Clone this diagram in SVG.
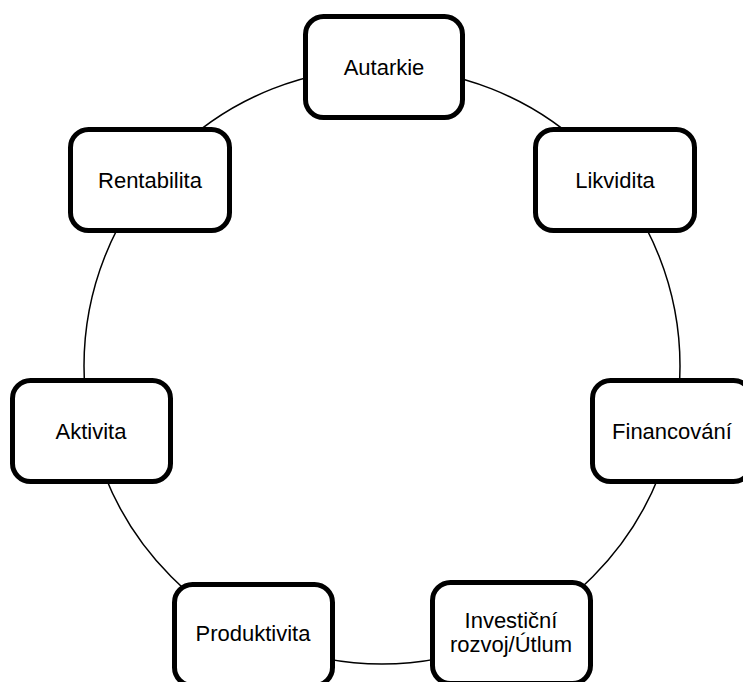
<svg xmlns="http://www.w3.org/2000/svg" width="743" height="682" viewBox="0 0 743 682">
<style>
.box{fill:#fff;stroke:#000;stroke-width:5}
.lbl{font-family:"Liberation Sans",Arial,sans-serif;font-size:22px;fill:#000;text-anchor:middle}
.conn{fill:none;stroke:#000;stroke-width:1.5}
</style>
<rect width="743" height="682" fill="#fff"/>
<g id="connectors">
<circle class="conn" cx="382" cy="366" r="298"/>
</g>
<g id="autarkie">
<rect class="box" x="305.5" y="16.5" width="157" height="101" rx="18"/>
<text class="lbl" x="384" y="75">Autarkie</text>
</g>
<g id="likvidita">
<rect class="box" x="535.5" y="129.5" width="159" height="101" rx="18"/>
<text class="lbl" x="615" y="188">Likvidita</text>
</g>
<g id="financovani">
<rect class="box" x="592.5" y="380.5" width="159" height="101" rx="18"/>
<text class="lbl" x="672" y="439">Financování</text>
</g>
<g id="investicni">
<rect class="box" x="432.5" y="582.5" width="158" height="101" rx="18"/>
<text class="lbl" x="511" y="628">Investiční</text>
<text class="lbl" x="511" y="652">rozvoj/Útlum</text>
</g>
<g id="produktivita">
<rect class="box" x="174.5" y="584.5" width="158" height="101" rx="18"/>
<text class="lbl" x="253" y="641">Produktivita</text>
</g>
<g id="aktivita">
<rect class="box" x="12.5" y="380.5" width="158" height="101" rx="18"/>
<text class="lbl" x="91" y="439">Aktivita</text>
</g>
<g id="rentabilita">
<rect class="box" x="70.5" y="129.5" width="159" height="101" rx="18"/>
<text class="lbl" x="150" y="188">Rentabilita</text>
</g>
</svg>
